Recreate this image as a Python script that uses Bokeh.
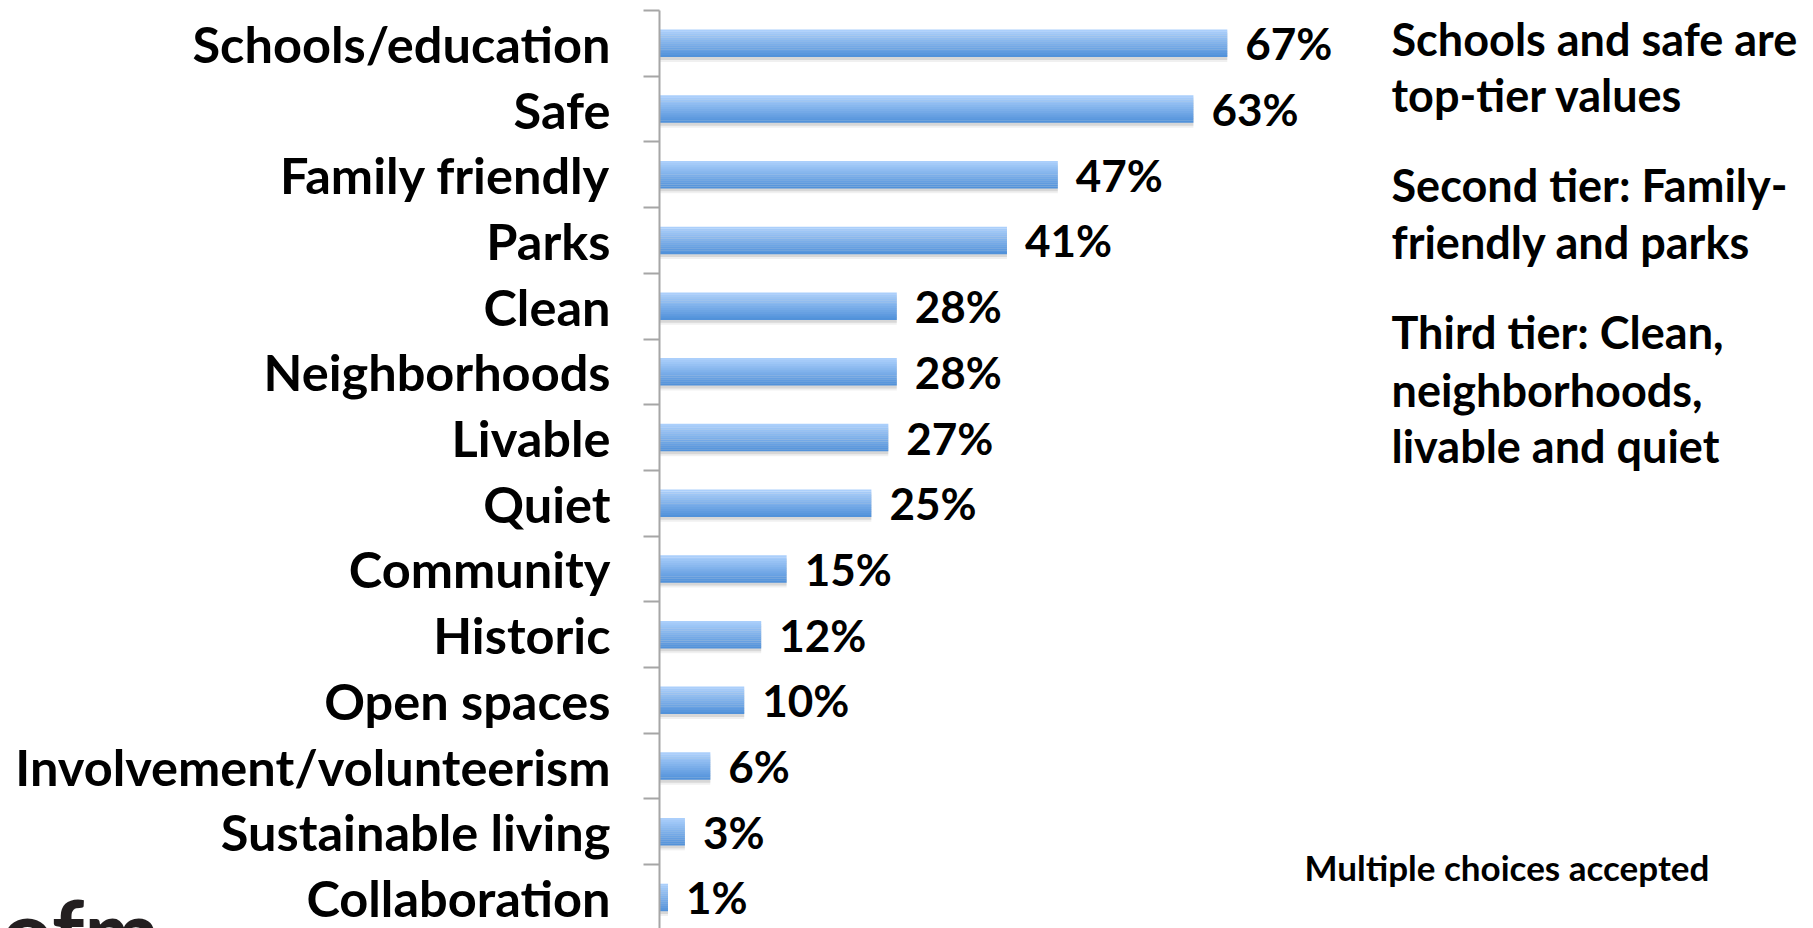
from bokeh.plotting import figure
from bokeh.models import Range1d, FixedTicker, Label, ColumnDataSource, LinearAxis
from bokeh.transform import dodge
from bokeh.embed import file_html
from bokeh.resources import INLINE
from bokeh.core.properties import value

# ---------------- data ----------------
categories = ["Schools/education", "Safe", "Family friendly", "Parks", "Clean",
              "Neighborhoods", "Livable", "Quiet", "Community", "Historic",
              "Open spaces", "Involvement/volunteerism", "Sustainable living",
              "Collaboration"]
percents = [67, 63, 47, 41, 28, 28, 27, 25, 15, 12, 10, 6, 3, 1]
value_labels = [f"{v}%" for v in percents]
notes = [["Schools and safe are", "top-tier values"],
         ["Second tier: Family-", "friendly and parks"],
         ["Third tier: Clean,", "neighborhoods,", "livable and quiet"]]
footnote = "Multiple choices accepted"
logo = "ofm"

# ---------------- layout ----------------
W, H = 1797, 928
ZERO_X = 659        # canvas x of the 0% line
TOP = 10            # canvas y of the first category boundary
PX_PER_PCT = 8.475
BAND = 65.7
x_start = -ZERO_X / PX_PER_PCT
x_end = (W - ZERO_X) / PX_PER_PCT
y_first = -0.5
y_top = y_first - TOP / BAND
y_bottom = y_top + H / BAND

FONT = value("Lato")


def px2x(cx):
    return (cx - ZERO_X) / PX_PER_PCT


def py2y(cy):
    return y_top + cy / BAND


p = figure(width=W, height=H, x_range=Range1d(x_start, x_end), y_range=Range1d(y_bottom, y_top),
           output_backend="svg", toolbar_location=None,
           x_axis_location=None, y_axis_location=None,
           min_border_left=0, min_border_right=0, min_border_top=0, min_border_bottom=0,
           outline_line_color=None, background_fill_color="white", border_fill_color="white")
p.grid.visible = False

idx = list(range(len(categories)))
ax = LinearAxis(
    fixed_location=0,
    bounds=(y_first, len(categories) + 1),
    ticker=FixedTicker(ticks=idx, minor_ticks=[i - 0.5 for i in range(len(categories) + 2)]),
    major_label_overrides={i: c for i, c in enumerate(categories)},
    major_tick_line_color=None, major_tick_in=0, major_tick_out=0,
    minor_tick_in=0, minor_tick_out=16, minor_tick_line_color="#a6a6a6", minor_tick_line_width=2,
    axis_line_color="#a6a6a6", axis_line_width=2,
    major_label_standoff=33,
    major_label_text_font="Lato", major_label_text_font_style="bold",
    major_label_text_font_size="50.5px", major_label_text_color="black",
)
p.add_layout(ax, "left")

src = ColumnDataSource(dict(y=idx, pct=percents, label=value_labels))

bar_h = 0.416
# soft shadow under the bars
p.hbar(y=dodge("y", 0.075, range=p.y_range), left=0, right="pct", height=bar_h, source=src,
       fill_color="black", fill_alpha=0.06, line_color=None)
p.hbar(y=dodge("y", 0.045, range=p.y_range), left=0, right="pct", height=bar_h, source=src,
       fill_color="black", fill_alpha=0.10, line_color=None)

# vertical gradient from light (top) to darker blue (bottom)
top_rgb = (0xab, 0xcf, 0xfb)
bot_rgb = (0x52, 0x92, 0xda)
N = 14
for k in range(N):
    t = k / (N - 1)
    c = tuple(round(a + (b - a) * t) for a, b in zip(top_rgb, bot_rgb))
    col = "#%02x%02x%02x" % c
    off = -bar_h / 2 + (k + 0.5) * bar_h / N
    p.hbar(y=dodge("y", off, range=p.y_range), left=0, right="pct", height=bar_h / N * 1.08,
           source=src, fill_color=col, line_color=None)

p.text(x="pct", y="y", text="label", source=src, x_offset=18, text_baseline="middle",
       text_align="left", text_font=FONT, text_font_style="bold", text_font_size="44px",
       text_color="black")

# notes on the right
note_rows = [[38.5, 94], [184, 241], [331, 389, 445]]
for lines, ys in zip(notes, note_rows):
    for line, yy in zip(lines, ys):
        p.add_layout(Label(x=px2x(1391), y=py2y(yy), text=line, text_baseline="middle",
                           text_font="Lato", text_font_style="bold", text_font_size="45px",
                           text_color="black"))

p.add_layout(Label(x=px2x(1304), y=py2y(866), text=footnote, text_baseline="middle",
                   text_font="Lato", text_font_style="bold", text_font_size="35px",
                   text_color="black"))

# partially visible logo at the bottom-left corner (cropped like in the original)
p.add_layout(Label(x=px2x(1), y=py2y(875), text=logo, text_baseline="top",
                   text_font="Lato", text_font_style="bold", text_font_size="90px",
                   text_color="#231f20"))

open("out.html", "w").write(file_html(p, INLINE))
